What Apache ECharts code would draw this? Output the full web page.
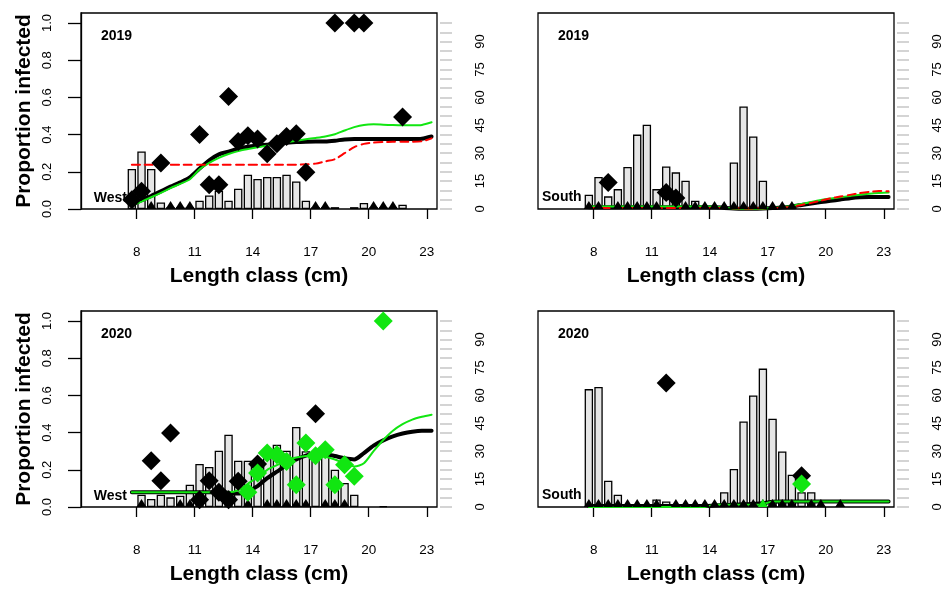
<!DOCTYPE html>
<html><head><meta charset="utf-8">
<script src="https://cdn.jsdelivr.net/npm/echarts@6/dist/echarts.min.js"></script>
<style>html,body{margin:0;padding:0;background:#fff}#c{width:950px;height:589px}</style>
</head><body><div id="c"></div>
<script>
// ---------- data ----------
const lengthClass = [7.75, 8.25, 8.75, 9.25, 9.75, 10.25, 10.75, 11.25, 11.75, 12.25, 12.75, 13.25, 13.75, 14.25, 14.75, 15.25,
  15.75, 16.25, 16.75, 17.25, 17.75, 18.25, 18.75, 19.25, 19.75, 20.25, 20.75, 21.25, 21.75, 22.25, 22.75, 23.25];
const xTicks = [8, 11, 14, 17, 20, 23];
const propTicks = [0, 0.2, 0.4, 0.6, 0.8, 1.0];
const countLabels = [0, 15, 30, 45, 60, 75, 90];
const countTicks = [0, 5, 10, 15, 20, 25, 30, 35, 40, 45, 50, 55, 60, 65, 70, 75, 80, 85, 90, 95, 100];
const regionNames = ['West', 'South', 'West', 'South'];
const yearNames = ['2019', '2019', '2020', '2020'];
const xTitle = 'Length class (cm)';
const yTitle = 'Proportion infected';

// West 2019
const countWest2019 = [21.5, 30.9, 21.5, 3.5, 1, 1, 1, 4.5, 7.3, 9.8, 4.5, 10.9, 18.4, 16.1, 17.2, 17.2,
  18.4, 14.8, 4.5, 1, 1, 1, 0, 1, 3.2, 1, 1, 1, 2.3, 0, 0, 0];
const propWest2019 = [0.05, 0.095, 0, 0.247, 0, 0, 0, 0.40, 0.13, 0.13, 0.605, 0.363, 0.394, 0.376, 0.297, 0.351,
  0.39, 0.405, 0.197, 0, 0, 1.0, null, 1.0, 1.0, 0, 0, 0, 0.494, null, null, null];
const greenPtsWest2019 = [];
const fitBlackWest2019 = [0.023, 0.047, 0.07, 0.095, 0.12, 0.143, 0.17, 0.218, 0.262, 0.294, 0.308, 0.325, 0.335, 0.341, 0.346, 0.351,
  0.356, 0.36, 0.362, 0.363, 0.363, 0.367, 0.374, 0.376, 0.376, 0.376, 0.376, 0.376, 0.376, 0.376, 0.378, 0.39];
const fitGreenWest2019 = [0.018, 0.04, 0.063, 0.087, 0.112, 0.135, 0.16, 0.213, 0.248, 0.275, 0.296, 0.311, 0.322, 0.332, 0.34, 0.352,
  0.36, 0.367, 0.375, 0.382, 0.39, 0.402, 0.422, 0.44, 0.452, 0.455, 0.453, 0.451, 0.45, 0.45, 0.452, 0.466];
const fitRedWest2019 = [0.238, 0.238, 0.238, 0.238, 0.238, 0.238, 0.238, 0.238, 0.238, 0.238, 0.238, 0.238, 0.238, 0.238, 0.238, 0.238,
  0.238, 0.238, 0.24, 0.244, 0.256, 0.268, 0.3, 0.333, 0.35, 0.357, 0.36, 0.361, 0.362, 0.362, 0.364, 0.38];

// South 2019
const countSouth2019 = [7.7, 17.2, 6.8, 10.7, 22.6, 40, 45.3, 10.7, 22.9, 19.7, 15.2, 4.5, 1.5, 1, 1, 25,
  55.1, 39, 15.2, 1, 1, 0.5, 0, 0, 0, 0, 0, 0, 0, 0, 0, 0];
const propSouth2019 = [0, 0, 0.143, 0, 0, 0, 0, 0, 0.089, 0.059, 0, 0, 0, 0, 0, 0,
  0, 0, 0, 0, 0, 0, null, null, null, null, null, null, null, null, null, null];
const greenPtsSouth2019 = [];
const fitBlackSouth2019 = [0.01, 0.01, 0.01, 0.01, 0.01, 0.01, 0.01, 0.01, 0.01, 0.01, 0.01, 0.01, 0.01, 0.01, 0.006, 0.003,
  0.002, 0.002, 0.003, 0.005, 0.008, 0.014, 0.022, 0.03, 0.037, 0.044, 0.051, 0.058, 0.063, 0.065, 0.065, 0.065];
const fitGreenSouth2019 = [0.013, 0.013, 0.013, 0.013, 0.013, 0.013, 0.013, 0.013, 0.013, 0.013, 0.013, 0.013, 0.013, 0.012, 0.008, 0.003,
  0.001, 0.001, 0.002, 0.006, 0.01, 0.016, 0.027, 0.038, 0.048, 0.056, 0.063, 0.07, 0.077, 0.082, 0.086, 0.089];
const fitRedSouth2019 = [0.005, 0.005, 0.005, 0.005, 0.005, 0.005, 0.005, 0.005, 0.005, 0.005, 0.005, 0.005, 0.005, 0.005, 0.005, 0.004,
  0.003, 0.003, 0.004, 0.005, 0.007, 0.012, 0.022, 0.033, 0.045, 0.057, 0.067, 0.076, 0.085, 0.092, 0.097, 0.095];

// West 2020
const countWest2020 = [0, 6.6, 4.3, 6.6, 5.2, 6.1, 12, 23.1, 21.5, 30.3, 38.9, 24.9, 24.9, 19.5, 29.9, 33.5,
  30.3, 43, 30, 27.2, 29.9, 20, 12.9, 6.6, 0, 0, 0.5, 0, 0, 0, 0, 0];
const propWest2020 = [null, 0, 0.249, 0.141, 0.398, 0, 0, 0.039, 0.141, 0.079, 0.039, 0.138, 0, 0.231, 0, 0,
  0, 0, 0, 0.502, 0, 0, 0, null, null, null, null, null, null, null, null, null];
const greenPtsWest2020 = [null, null, null, null, null, null, null, null, null, null, null, null, 0.079, 0.183, 0.29, 0.281,
  0.245, 0.12, 0.344, 0.276, 0.308, 0.12, 0.227, 0.165, null, null, 1.0, null, null, null, null, null];
const fitBlackWest2020 = [0.079, 0.079, 0.079, 0.079, 0.079, 0.079, 0.079, 0.079, 0.079, 0.079, 0.077, 0.072, 0.085, 0.112, 0.155, 0.19,
  0.225, 0.255, 0.276, 0.286, 0.284, 0.274, 0.262, 0.256, 0.29, 0.33, 0.358, 0.38, 0.395, 0.405, 0.41, 0.41];
const fitGreenWest2020 = [0.079, 0.079, 0.079, 0.079, 0.079, 0.079, 0.079, 0.079, 0.079, 0.079, 0.079, 0.09, 0.125, 0.16, 0.2, 0.225,
  0.25, 0.266, 0.274, 0.276, 0.27, 0.255, 0.235, 0.218, 0.235, 0.3, 0.36, 0.41, 0.445, 0.47, 0.485, 0.496];
const fitRedWest2020 = [];

// South 2020
const countSouth2020 = [63.4, 64.5, 14.1, 6.6, 1, 0.5, 0.5, 4, 3, 0.5, 0, 0, 0, 0, 7.9, 20.4,
  46, 60, 74.4, 47.5, 29.9, 17.4, 7.9, 7.9, 0.5, 0, 0, 0, 0, 0, 0, 0];
const propSouth2020 = [0, 0, 0, 0, 0, 0, 0, 0, 0.667, 0, 0, 0, 0, 0, 0, 0,
  0, 0, 0, 0, 0, 0, 0.168, 0, 0, null, 0, null, null, null, null, null];
const greenPtsSouth2020 = [null, null, null, null, null, null, null, null, null, null, null, null, null, null, null, null,
  null, null, 0, null, null, null, 0.124, null, null, null, null, null, null, null, null, null];
const fitBlackSouth2020 = [0.006, 0.006, 0.006, 0.006, 0.006, 0.006, 0.006, 0.006, 0.006, 0.006, 0.006, 0.006, 0.006, 0.008, 0.01, 0.012,
  0.014, 0.016, 0.02, 0.028, 0.03, 0.03, 0.03, 0.03, 0.03, 0.03, 0.03, 0.03, 0.03, 0.03, 0.03, 0.03];
const fitGreenSouth2020 = [0, 0, 0, 0, 0, 0, 0, 0, 0, 0, 0, 0, 0, 0.012, 0.012, 0.012,
  0.012, 0.012, 0.015, 0.03, 0.03, 0.03, 0.03, 0.03, 0.03, 0.03, 0.03, 0.03, 0.03, 0.03, 0.03, 0.03];
const fitRedSouth2020 = [];

// ---------- layout ----------
const FONT = '"Liberation Sans", Arial, Helvetica, sans-serif';
const layout = [
  {left: 81, top: 13, leftAxis: true},
  {left: 538, top: 13, leftAxis: false},
  {left: 81, top: 311, leftAxis: true},
  {left: 538, top: 311, leftAxis: false}
];
const PW = 356, PH = 196;
const XMIN = 5.12, XMAX = 23.53;
const YMAX = PH / 186;          // proportion axis: 1.0 sits 186 px above baseline
const CMAX = 100 * YMAX;        // count axis aligned with it

const panelData = [
  {count: countWest2019, black: propWest2019, green: greenPtsWest2019, fb: fitBlackWest2019, fg: fitGreenWest2019, fr: fitRedWest2019},
  {count: countSouth2019, black: propSouth2019, green: greenPtsSouth2019, fb: fitBlackSouth2019, fg: fitGreenSouth2019, fr: fitRedSouth2019},
  {count: countWest2020, black: propWest2020, green: greenPtsWest2020, fb: fitBlackWest2020, fg: fitGreenWest2020, fr: fitRedWest2020},
  {count: countSouth2020, black: propSouth2020, green: greenPtsSouth2020, fb: fitBlackSouth2020, fg: fitGreenSouth2020, fr: fitRedSouth2020}
];

const GREEN = '#11e611';
const grid = [], xAxis = [], yAxis = [], series = [], graphic = [];

function pairs(arr, pred) {
  const out = [];
  arr.forEach((v, j) => { if (v !== null && v !== undefined && pred(v)) out.push([lengthClass[j], v]); });
  return out;
}

layout.forEach((L, i) => {
  const D = panelData[i];
  grid.push({left: L.left, top: L.top, width: PW, height: PH, show: true, borderColor: '#000', borderWidth: 1.3, backgroundColor: 'transparent'});
  xAxis.push({
    gridIndex: i, type: 'value', min: XMIN, max: XMAX, offset: 4,
    axisLine: {show: false},
    axisTick: {show: true, customValues: xTicks, length: 10, lineStyle: {color: '#000', width: 1.3}},
    axisLabel: {customValues: xTicks, margin: 32, fontSize: 13.5, color: '#000', fontFamily: FONT},
    splitLine: {show: false},
    name: xTitle, nameLocation: 'middle', nameGap: 53,
    nameTextStyle: {fontSize: 21, fontWeight: 'bold', color: '#000', fontFamily: FONT}
  });
  yAxis.push({
    gridIndex: i, type: 'value', min: 0, max: YMAX, position: 'left',
    axisLine: {show: L.leftAxis, lineStyle: {color: '#000', width: 1.3}},
    axisTick: {show: L.leftAxis, customValues: propTicks, length: 13, lineStyle: {color: '#000', width: 1.3}},
    axisLabel: {show: L.leftAxis, customValues: propTicks, rotate: 90, margin: 27, fontSize: 13, color: '#000', fontFamily: FONT,
      formatter: v => Number(v).toFixed(1)},
    splitLine: {show: false},
    name: L.leftAxis ? yTitle : '', nameLocation: 'middle', nameGap: 46,
    nameTextStyle: {fontSize: 21, fontWeight: 'bold', color: '#000', fontFamily: FONT}
  });
  yAxis.push({
    gridIndex: i, type: 'value', min: 0, max: CMAX, position: 'right', offset: 3,
    axisLine: {show: false},
    axisTick: {show: true, customValues: countTicks, length: 12, lineStyle: {color: '#d4d4d4', width: 2}},
    axisLabel: {customValues: countLabels, rotate: 90, margin: 34, fontSize: 13, color: '#000', fontFamily: FONT},
    splitLine: {show: false}
  });
  series.push({
    type: 'bar', xAxisIndex: i, yAxisIndex: 2 * i + 1, barWidth: 8.4, z: 2, silent: true,
    itemStyle: {color: '#e6e6e6', borderColor: '#000', borderWidth: 1.3, opacity: 1},
    data: pairs(D.count, v => v > 0)
  });
  const lineSeries = (arr, color, width, type, z) => ({
    type: 'line', xAxisIndex: i, yAxisIndex: 2 * i, symbol: 'none', showSymbol: false, z: z, silent: true, smooth: 0.25,
    lineStyle: {color: color, width: width, type: type, cap: 'round', join: 'round', opacity: 1},
    data: arr.map((v, j) => [lengthClass[j], v])
  });
  if (D.fb.length) series.push(lineSeries(D.fb, '#000', 4, 'solid', 3));
  if (D.fg.length) series.push(lineSeries(D.fg, GREEN, 2, 'solid', 4));
  if (D.fr.length) series.push(lineSeries(D.fr, '#ff0000', 2, [8, 5], 4));
  const pts = (arr, color, z) => {
    series.push({type: 'scatter', xAxisIndex: i, yAxisIndex: 2 * i, symbol: 'diamond', symbolSize: 19, z: z, silent: true, clip: false,
      itemStyle: {color: color, opacity: 1}, data: pairs(arr, v => v > 0)});
    series.push({type: 'scatter', xAxisIndex: i, yAxisIndex: 2 * i, symbol: 'triangle', symbolSize: [10, 8], symbolOffset: [0, -4], z: z, silent: true, clip: false,
      itemStyle: {color: color, opacity: 1}, data: pairs(arr, v => v === 0)});
  };
  pts(D.black, '#000', 5);
  if (D.green.length) pts(D.green, GREEN, 6);

  graphic.push({type: 'text', x: L.left + 20, y: L.top + 23, z: 10,
    style: {text: yearNames[i], font: 'bold 14px ' + FONT, fill: '#000', verticalAlign: 'middle', align: 'left'}});
  if (regionNames[i] === 'West') {
    graphic.push({type: 'text', x: L.left + 46, y: L.top + 185, z: 10,
      style: {text: regionNames[i], font: 'bold 14px ' + FONT, fill: '#000', verticalAlign: 'middle', align: 'right'}});
  } else {
    graphic.push({type: 'text', x: L.left + 4, y: L.top + 184, z: 10,
      style: {text: regionNames[i], font: 'bold 14px ' + FONT, fill: '#000', verticalAlign: 'middle', align: 'left'}});
  }
});

const chart = echarts.init(document.getElementById('c'), null, {renderer: 'canvas'});
chart.setOption({animation: false, backgroundColor: '#fff', grid, xAxis, yAxis, series, graphic});
</script></body></html>
